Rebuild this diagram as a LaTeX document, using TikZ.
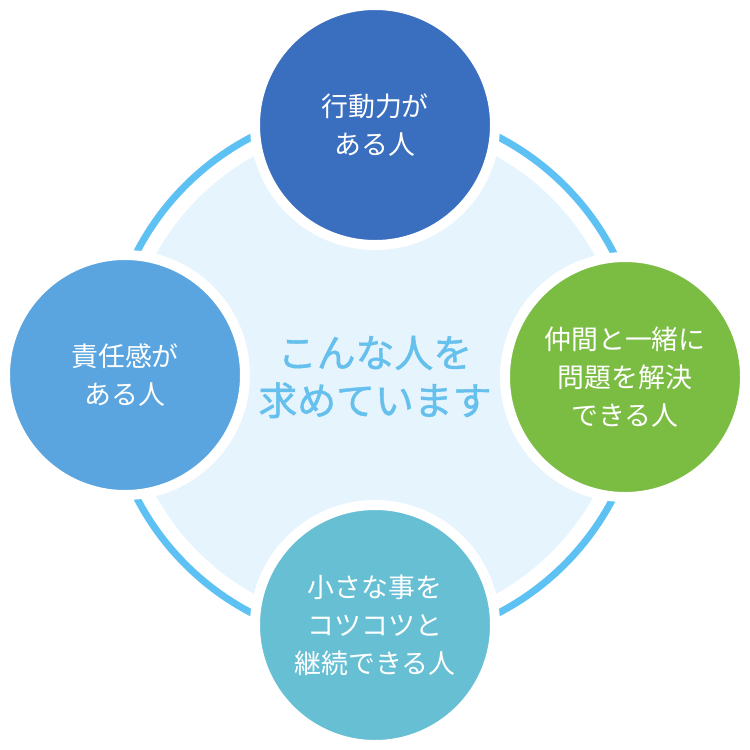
\documentclass[tikz,border=0pt]{standalone}
\usepackage{fontspec}
\setmainfont{Noto Sans CJK JP}
\newfontfamily\centerfont[FakeBold=1.2]{Noto Sans CJK JP}
\definecolor{ringc}{HTML}{5DC2F3}
\definecolor{fillc}{HTML}{E5F4FD}
\definecolor{ctext}{HTML}{66C0EE}
\definecolor{ctop}{HTML}{3A6EBF}
\definecolor{cright}{HTML}{7BBD43}
\definecolor{cbottom}{HTML}{66BFD3}
\definecolor{cleft}{HTML}{5AA5DF}
\tikzset{
  item/.style={circle, minimum size=240bp, inner sep=0pt, draw=white, line width=10bp,
    text=white, align=center, font=\fontsize{27}{38}\selectfont},
  centertext/.style={text=ctext, align=center, font=\centerfont\fontsize{39}{48}\selectfont}
}
\begin{document}
\begin{tikzpicture}[x=1bp, y=-1bp]
\useasboundingbox (0,0) rectangle (750,750);
\fill[white] (0,0) rectangle (750,750);
\coordinate (c) at (375,375);
\fill[fillc] (c) circle[radius=250];
\draw[ringc, line width=7bp] (c) circle[radius=268];
\node[centertext] (center) at (375,377) {こんな人を\\求めています};
\node[item, fill=ctop] (top) at (375,125) {行動力が\\ある人};
\node[item, fill=cright] (right) at (625,377) {仲間と一緒に\\問題を解決\\できる人};
\node[item, fill=cbottom] (bottom) at (375,625) {小さな事を\\コツコツと\\継続できる人};
\node[item, fill=cleft] (left) at (125,375) {責任感が\\ある人};
\end{tikzpicture}
\end{document}
